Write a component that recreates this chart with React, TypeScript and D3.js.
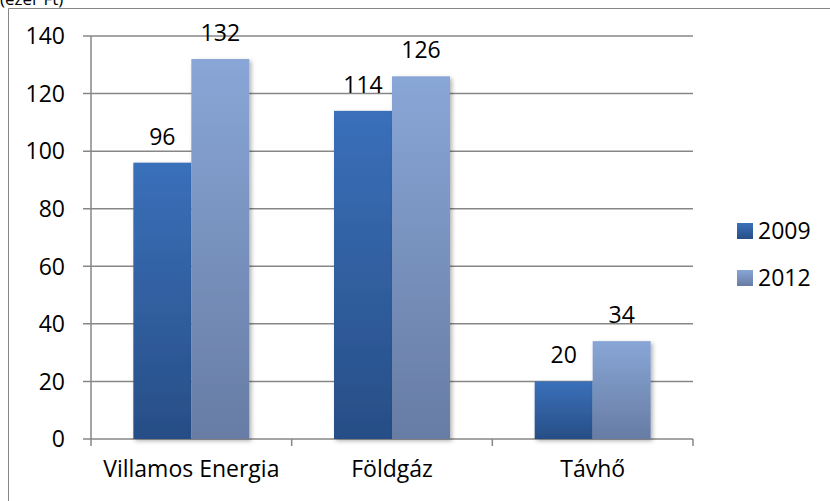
import React from "react";
import * as d3 from "d3";

const categories = ["Villamos Energia", "Földgáz", "Távhő"];
const seriesNames = ["2009", "2012"];
const values2009 = [96, 114, 20];
const values2012 = [132, 126, 34];
const yTicks = [0, 20, 40, 60, 80, 100, 120, 140];
const unitLabel = "(ezer Ft)";

const FONT = "'Open Sans', Lato, sans-serif";

export default function App() {
  const W = 830, H = 501;
  const left = 91, right = 693, top = 36, bottom = 439;
  const x0 = d3.scaleBand<string>().domain(categories).range([left, right]);
  const bw = x0.bandwidth();
  const x1 = d3.scaleBand<string>().domain(seriesNames).range([bw * 0.211, bw * 0.789]);
  const y = d3.scaleLinear().domain([0, 140]).range([bottom, top]);
  const seriesValues = [values2009, values2012];
  const grads = ["g2009", "g2012"];
  const gridColor = "#878787";
  const fs = 23;

  return (
    <svg width={W} height={H} style={{ position: "absolute", left: 0, top: 0, background: "#fff" }}>
      <defs>
        <linearGradient id="g2009" x1="0" y1="0" x2="0" y2="1">
          <stop offset="0%" stopColor="#3a70ba" />
          <stop offset="100%" stopColor="#274e86" />
        </linearGradient>
        <linearGradient id="g2012" x1="0" y1="0" x2="0" y2="1">
          <stop offset="0%" stopColor="#88a6d6" />
          <stop offset="100%" stopColor="#677ca4" />
        </linearGradient>
        <filter id="shadow" x="-20%" y="-5%" width="140%" height="115%">
          <feDropShadow dx="2" dy="2" stdDeviation="2" floodColor="#000" floodOpacity="0.3" />
        </filter>
      </defs>
      <text x={0} y={5} fontFamily={FONT} fontSize={17} fill="#000">{unitLabel}</text>
      <path d={`M8.5,${H} V8.5 H${W}`} fill="none" stroke="#868686" strokeWidth={1} />
      {yTicks.map((t) => (
        <g key={t}>
          <line x1={left - 8} x2={right} y1={y(t)} y2={y(t)} stroke={gridColor} strokeWidth={1.5} />
          <text x={65} y={y(t)} dy="0.36em" textAnchor="end" fontFamily={FONT} fontSize={fs} fill="#000">{t}</text>
        </g>
      ))}
      <line x1={left} x2={left} y1={top} y2={bottom} stroke={gridColor} strokeWidth={1.5} />
      {[...categories.map((c) => x0(c)!), right].map((xv, i) => (
        <line key={i} x1={xv} x2={xv} y1={bottom} y2={bottom + 7} stroke={gridColor} strokeWidth={1.5} />
      ))}
      {categories.map((c, ci) => (
        <g key={c}>
          {seriesNames.map((s, si) => {
            const v = seriesValues[si][ci];
            const bx = x0(c)! + x1(s)!;
            return (
              <g key={s}>
                <rect x={bx} y={y(v)} width={x1.bandwidth()} height={bottom - y(v)} fill={`url(#${grads[si]})`} filter="url(#shadow)" />
                <text x={bx + x1.bandwidth() / 2} y={y(v) - 18} textAnchor="middle" fontFamily={FONT} fontSize={fs} fill="#000">{v}</text>
              </g>
            );
          })}
          <text x={x0(c)! + bw / 2} y={bottom + 38} textAnchor="middle" fontFamily={FONT} fontSize={fs} fill="#000">{c}</text>
        </g>
      ))}
      {seriesNames.map((s, si) => (
        <g key={s} transform={`translate(737, ${223 + si * 47})`}>
          <rect x={0} y={0} width={16} height={16} fill={`url(#${grads[si]})`} />
          <text x={21} y={8} dy="0.36em" fontFamily={FONT} fontSize={fs} fill="#000">{s}</text>
        </g>
      ))}
    </svg>
  );
}
